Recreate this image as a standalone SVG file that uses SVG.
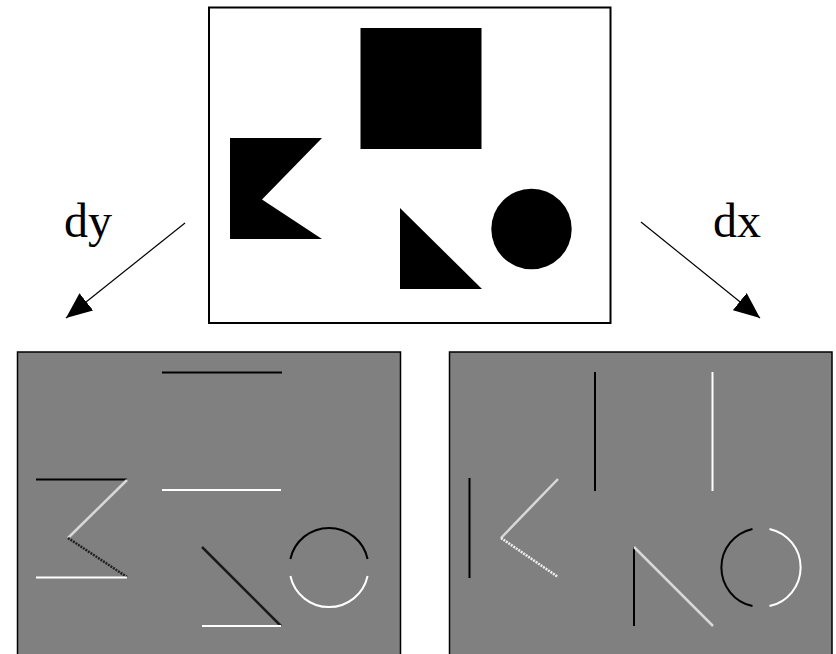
<svg xmlns="http://www.w3.org/2000/svg" width="836" height="654" viewBox="0 0 836 654">
<style>
.lbl{font-family:"Liberation Serif","Times New Roman",serif;font-size:48px;fill:#000}
.panel{fill:#808080;stroke:#000;stroke-width:1.5}
.blk{stroke:#000;stroke-width:2;fill:none}
.wht{stroke:#fff;stroke-width:2;fill:none}
.lt{stroke:#d8d8d8;stroke-width:2.5;fill:none}
.dk{stroke:#1a1a1a;stroke-width:2.5;fill:none}
.dotw{stroke:#f0f0f0;stroke-width:2.5;fill:none;stroke-dasharray:2 1}
.dotd{stroke:#202020;stroke-width:2.5;fill:none;stroke-dasharray:2 1}
.conn{stroke:#000;stroke-width:1.2;fill:none}
</style>
<defs>
<marker id="ah" markerUnits="userSpaceOnUse" markerWidth="28" markerHeight="22" refX="26" refY="11" orient="auto">
<path d="M0,0 L26,11 L0,22 z" fill="#000"/>
</marker>
</defs>
<rect width="836" height="654" fill="#fff"/>
<g id="original">
<rect x="209" y="7.5" width="401.5" height="315.5" fill="#fff" stroke="#000" stroke-width="2"/>
<rect x="360.5" y="28" width="121" height="121" fill="#000"/>
<polygon points="230,138 322,138 262,199.5 322,239 230,239" fill="#000"/>
<polygon points="400,208 400,289 482,289" fill="#000"/>
<circle cx="531.5" cy="229" r="40.2" fill="#000"/>
</g>
<g id="dy-panel">
<rect class="panel" x="17.5" y="352" width="383" height="310"/>
<line class="blk" x1="162" y1="372.5" x2="282" y2="372.5"/>
<line class="wht" x1="162" y1="490" x2="281" y2="490"/>
<line class="blk" x1="36" y1="479.5" x2="127" y2="479.5"/>
<line class="lt" x1="127" y1="480" x2="68" y2="538"/>
<line class="dotd" x1="68" y1="538" x2="127" y2="577"/>
<line class="wht" x1="36" y1="577.5" x2="127" y2="577.5"/>
<line class="dk" x1="202" y1="547" x2="281" y2="626"/>
<line class="wht" x1="202" y1="626" x2="281" y2="626"/>
<path class="blk" d="M290.4,559 A39.5,39.5 0 0 1 367.6,559"/>
<path class="wht" d="M290.4,576 A39.5,39.5 0 0 0 367.6,576"/>
</g>
<g id="dx-panel">
<rect class="panel" x="449.5" y="352" width="382.5" height="310"/>
<line class="blk" x1="595" y1="372" x2="595" y2="491"/>
<line class="wht" x1="712.5" y1="372" x2="712.5" y2="491"/>
<line class="blk" x1="469.5" y1="478" x2="469.5" y2="578"/>
<line class="lt" x1="558" y1="479" x2="501" y2="538"/>
<line class="dotw" x1="501" y1="538" x2="558" y2="577"/>
<line class="blk" x1="634" y1="547" x2="634" y2="626"/>
<line class="lt" x1="634" y1="547" x2="713" y2="626"/>
<path class="blk" d="M752.5,528.9 A39.5,39.5 0 0 0 752.5,606.1"/>
<path class="wht" d="M769.5,528.9 A39.5,39.5 0 0 1 769.5,606.1"/>
</g>
<g id="connectors">
<line class="conn" x1="185" y1="223" x2="66" y2="318" marker-end="url(#ah)"/>
<line class="conn" x1="641" y1="222" x2="760" y2="318" marker-end="url(#ah)"/>
</g>
<g id="labels">
<text class="lbl" x="64" y="237">dy</text>
<text class="lbl" x="713" y="237">dx</text>
</g>
</svg>
